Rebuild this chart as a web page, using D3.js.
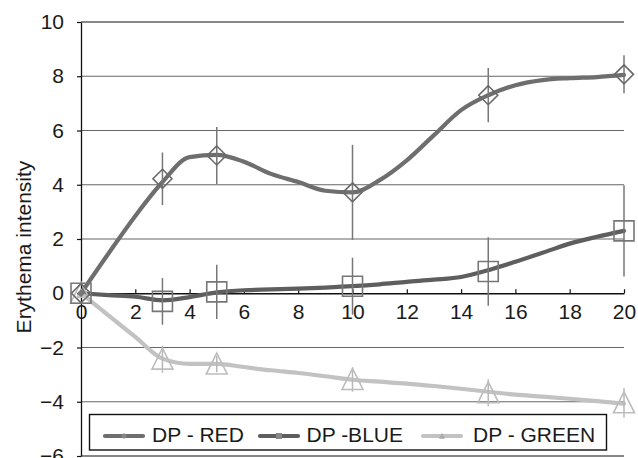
<!DOCTYPE html>
<html><head><meta charset="utf-8">
<script src="https://cdn.jsdelivr.net/npm/d3@7"></script>
<style>
html,body{margin:0;padding:0;background:#fff;}
svg{display:block;font-family:"Liberation Sans",Arial,sans-serif;}
</style></head>
<body>
<svg id="c" width="638" height="458"></svg>
<script>
// ---- data ----
const xTicks = [0,2,4,6,8,10,12,14,16,18,20];
const yTicks = [-6,-4,-2,0,2,4,6,8,10];
const seriesNames = ["DP - RED","DP -BLUE","DP - GREEN"];
// smoothed lines
const lineX     = [0,1,2,3,4,5,6,7,8,9,10,11,12,13,14,15,16,17,18,19,20];
const redLine   = [0,1.45,2.85,4.1,5.02,5.1,4.85,4.4,4.1,3.78,3.72,4.17,4.9,5.83,6.75,7.3,7.67,7.86,7.93,7.97,8.05];
const blueLine  = [0,-0.07,-0.13,-0.26,-0.14,0.03,0.11,0.14,0.17,0.21,0.26,0.33,0.42,0.5,0.6,0.85,1.16,1.49,1.83,2.08,2.3];
const greenLine = [0,-0.81,-1.61,-2.41,-2.6,-2.6,-2.72,-2.84,-2.94,-3.06,-3.19,-3.26,-3.33,-3.42,-3.52,-3.63,-3.74,-3.81,-3.89,-3.98,-4.07];
// measured means with error bars
const markX     = [0,3,5,10,15,20];
const redMean   = [0,4.22,5.08,3.72,7.3,8.07];
const redErr    = [0,0.97,1.05,1.75,1.0,0.7];
const blueMean  = [0,-0.3,0.05,0.26,0.8,2.3];
const blueErr   = [0,0.86,1.0,1.05,1.26,1.68];
const greenMean = [0,-2.43,-2.61,-3.18,-3.67,-4.04];
const greenErr  = [0,0.5,0.3,0.45,0.5,0.55];

// ---- layout ----
const svg = d3.select("#c");
const L = 81, R = 624, T = 22, B = 456;
const x = d3.scaleLinear().domain([0,20]).range([L,R]);
const y = d3.scaleLinear().domain([-6,10]).range([B,T]);
const FS = 21;

svg.append("rect").attr("width",638).attr("height",458).attr("fill","#fff");

// gridlines
svg.append("g").selectAll("line").data(yTicks.filter(d=>d!==0)).join("line")
  .attr("x1",L).attr("x2",R).attr("y1",d=>y(d)).attr("y2",d=>y(d))
  .attr("stroke",d=>(d===10||d===-6)?"#111":"#666").attr("stroke-width",1.2);

// y axis
const ya = svg.append("g").attr("transform",`translate(${L},0)`)
  .call(d3.axisLeft(y).tickValues(yTicks).tickSizeInner(4).tickSizeOuter(0).tickPadding(13)
    .tickFormat(d=>d<0?"\u2212"+Math.abs(d):d));
ya.select(".domain").attr("stroke","#111").attr("stroke-width",1.3);
ya.selectAll(".tick line").attr("stroke","#111").attr("stroke-width",1.2);
ya.selectAll("text").attr("font-size",FS).attr("fill","#1a1a1a").attr("font-family","Liberation Sans, Arial, sans-serif");

// x axis at y=0
const xa = svg.append("g").attr("transform",`translate(0,${y(0)})`)
  .call(d3.axisBottom(x).tickValues(xTicks).tickSizeInner(-4).tickSizeOuter(0).tickPadding(11));
xa.select(".domain").attr("stroke","#111").attr("stroke-width",1.3);
xa.selectAll(".tick line").attr("stroke","#111").attr("stroke-width",1.2);
xa.selectAll("text").attr("font-size",FS).attr("fill","#1a1a1a").attr("font-family","Liberation Sans, Arial, sans-serif");

// y title
svg.append("text").attr("transform",`translate(31,${(T+B)/2+8}) rotate(-90)`)
  .attr("text-anchor","middle").attr("font-size",FS).attr("fill","#1a1a1a")
  .text("Erythema intensity");

// lines
const lineGen = d3.line().x(d=>x(d[0])).y(d=>y(d[1])).curve(d3.curveMonotoneX);
const lineColors = ["#6e6e6e","#5e5e5e","#c2c2c2"];
const lines = [redLine, blueLine, greenLine];
lines.forEach((vals,i)=>{
  svg.append("path").datum(lineX.map((v,j)=>[v,vals[j]]))
    .attr("d",lineGen).attr("fill","none").attr("stroke",lineColors[i])
    .attr("stroke-width",4.2).attr("stroke-linejoin","round").attr("stroke-linecap","round");
});

// error bars
const errColors = ["#777","#777","#b8b8b8"];
const means = [redMean, blueMean, greenMean];
const errs = [redErr, blueErr, greenErr];
means.forEach((m,i)=>{
  svg.append("g").selectAll("line").data(markX.map((v,j)=>({x:v,m:m[j],e:errs[i][j]})).filter(d=>d.e>0)).join("line")
    .attr("x1",d=>x(d.x)).attr("x2",d=>x(d.x))
    .attr("y1",d=>y(d.m+d.e)).attr("y2",d=>y(d.m-d.e))
    .attr("stroke",errColors[i]).attr("stroke-width",1.5);
});

// markers
const mkColors = ["#6a6a6a","#777","#bdbdbd"];
function diamond(s){return `M0,${-s}L${s},0L0,${s}L${-s},0Z`;}
function square(s){return `M${-s},${-s}H${s}V${s}H${-s}Z`;}
function tri(s){return `M0,${-s*1.05}L${s},${s*0.95}L${-s},${s*0.95}Z`;}
const shapes = [()=>diamond(9.5), ()=>square(10), ()=>tri(10.5)];
[2,0,1].forEach(i=>{
  svg.append("g").selectAll("path").data(markX.map((v,j)=>({x:v,m:means[i][j]}))).join("path")
    .attr("transform",d=>`translate(${x(d.x)},${y(d.m)})`)
    .attr("d",shapes[i]).attr("fill","none").attr("stroke",mkColors[i]).attr("stroke-width",1.6);
});
// small filled origin markers
svg.append("path").attr("transform",`translate(${x(0)},${y(0)})`).attr("d",tri(5)).attr("fill","#c0c0c0");
svg.append("path").attr("transform",`translate(${x(0)},${y(0)})`).attr("d",diamond(4)).attr("fill","#777");

// legend
const lg = svg.append("g");
lg.append("rect").attr("x",89.5).attr("y",414.5).attr("width",517).attr("height",35.5)
  .attr("fill","#fff").attr("stroke","#111").attr("stroke-width",1.4);
const legX = [105, 260, 423];
const legTextX = [152, 306.5, 473];
const legShapes = [()=>diamond(3), ()=>square(3), ()=>tri(3)];
seriesNames.forEach((n,i)=>{
  lg.append("line").attr("x1",legX[i]).attr("x2",legX[i]+38).attr("y1",436).attr("y2",436)
    .attr("stroke",lineColors[i]).attr("stroke-width",4.2).attr("stroke-linecap","round");
  lg.append("path").attr("transform",`translate(${legX[i]+19},436)`).attr("d",legShapes[i]())
    .attr("fill",i===2?"#aaa":"#888");
  lg.append("text").attr("x",legTextX[i]).attr("y",441.7).attr("font-size",FS).attr("fill","#1a1a1a").text(n);
});
</script>
</body></html>
